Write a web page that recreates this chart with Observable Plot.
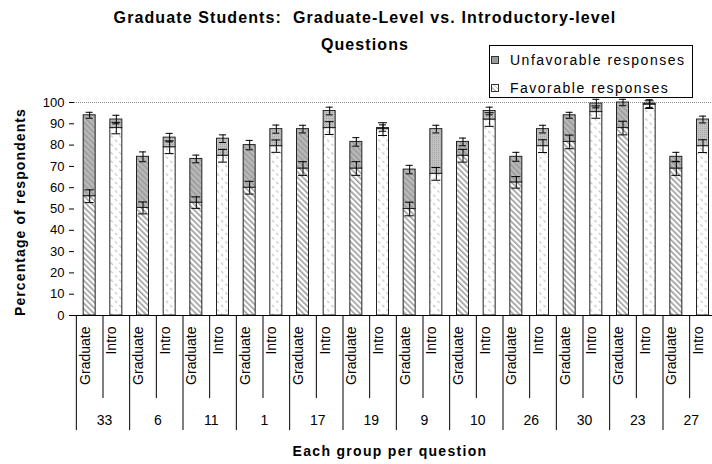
<!DOCTYPE html>
<html>
<head>
<meta charset="utf-8">
<script src="https://cdn.jsdelivr.net/npm/d3@7"></script>
<script src="https://cdn.jsdelivr.net/npm/@observablehq/plot@0.6"></script>
<style>
  body { margin: 0; background: #fff; font-family: "Liberation Sans", Arial, sans-serif; }
  #wrap { position: relative; width: 712px; height: 464px; overflow: hidden; background: #fff; }
  #chart { position: absolute; left: 0; top: 0; width: 712px; }
  .title { position: absolute; left: 0; width: 730px; text-align: center; font-weight: bold; font-size: 16px; letter-spacing: 1.1px; line-height: 18px; color: #000; }
  #legend { position: absolute; left: 489px; top: 45px; width: 202px; height: 51px; border: 1px solid #000; background: #fff; }
  .li { position: absolute; left: 20px; font-size: 14px; letter-spacing: 1.5px; line-height: 16px; white-space: nowrap; }
  .sw { position: absolute; left: 1px; width: 6px; height: 6px; border: 1px solid #333; }
  #ytitle { position: absolute; left: 20px; top: 212px; transform: translate(-50%, -50%) rotate(-90deg); font-weight: bold; font-size: 14px; letter-spacing: 1.1px; white-space: nowrap; }
  #xtitle { position: absolute; left: 390px; top: 451px; transform: translate(-50%, -50%); font-weight: bold; font-size: 14px; letter-spacing: 1.3px; white-space: nowrap; }
  g[aria-label="levels"] text { letter-spacing: 1.3px; }
  g[aria-label="groups"] text { letter-spacing: 3px; }
  svg { max-width: none !important; }
</style>
</head>
<body>
<div id="wrap">
  <div id="chart"></div>
  <div class="title" style="top:9px">Graduate Students:&nbsp; Graduate-Level vs. Introductory-level</div>
  <div class="title" style="top:36px">Questions</div>
  <div id="legend">
    <div class="sw" style="top:10px; background:#9a9a9a;"></div>
    <div class="li" style="top:6px;">Unfavorable responses</div>
    <div class="sw" style="top:38px; background: repeating-linear-gradient(45deg, #fff 0 2px, #bbb 2px 3px);"></div>
    <div class="li" style="top:34px;">Favorable responses</div>
  </div>
  <div id="ytitle">Percentage of respondents</div>
  <div id="xtitle">Each group per question</div>
</div>
<script>
// Question groups (category axis, outer level)
const groups = ["33", "6", "11", "1", "17", "19", "9", "10", "26", "30", "23", "27"];
// Respondent-question level (category axis, inner level)
const levels = ["Graduate", "Intro"];
// Favorable responses (%)
const favGrad  = [56, 50.5, 53, 60, 69, 69, 50, 75, 62.5, 81.5, 88, 69];
const favIntro = [88, 79, 75, 79.5, 88, 87.5, 66.5, 92, 79.5, 95.5, 99, 79.5];
// Unfavorable responses (%), stacked on top of favorable
const unfGrad  = [38, 24, 20.5, 20, 18.5, 12.5, 18.5, 6.5, 12, 12.5, 12, 5.5];
const unfIntro = [4, 4.5, 8, 8, 8, 0.5, 21, 4, 8, 4, 0.5, 12.5];
// Error half-widths (%)
const errFavGrad  = [3, 2.8, 2.7, 3, 3.2, 3.2, 3.2, 3, 2.7, 3.2, 3.2, 3.2];
const errFavIntro = [2.7, 3, 3, 2.9, 3, 3, 3, 3.2, 3, 2.9, 1.8, 3];
const errUnfGrad  = [1.4, 2.3, 1.8, 2.2, 1.8, 2, 2, 1.8, 2.1, 1.4, 1.5, 2.1];
const errUnfIntro = [2, 2, 1.8, 1.9, 1.8, 1.5, 1.8, 1.8, 1.8, 2, 1.8, 1.6];
// Y axis ticks
const yTicks = [0, 10, 20, 30, 40, 50, 60, 70, 80, 90, 100];

const rows = [];
groups.forEach((g, i) => {
  rows.push({key: g + "|Graduate", group: g, level: levels[0], fav: favGrad[i], unf: unfGrad[i], ef: errFavGrad[i], eu: errUnfGrad[i]});
  rows.push({key: g + "|Intro", group: g, level: levels[1], fav: favIntro[i], unf: unfIntro[i], ef: errFavIntro[i], eu: errUnfIntro[i]});
});
const grad = rows.filter(d => d.level === "Graduate");
const intro = rows.filter(d => d.level === "Intro");

const W = 712, H = 464;
const pad = 0.55;
const step = 640 / rows.length;            // one category slot
const rangeLen = step * (rows.length + pad);
const mLeft = 68.5;
const axisShift = 74 - mLeft;              // y axis sits a little left of the first category

const chart = Plot.plot({
  width: W, height: H,
  marginTop: 102, marginBottom: 149, marginLeft: mLeft, marginRight: W - (mLeft + rangeLen),
  style: {fontFamily: "Liberation Sans, Arial, sans-serif", fontSize: "13px", color: "#000", background: "transparent"},
  x: {type: "band", domain: rows.map(d => d.key), padding: pad, round: false, axis: null},
  y: {domain: [0, 100], axis: null},
  marks: [
    Plot.ruleY([100], {stroke: "#888", strokeDasharray: "1,1", insetLeft: axisShift}),
    Plot.barY(grad, {x: "key", y1: 0, y2: "fav", fill: "url(#gf)", stroke: "#222", strokeWidth: 1}),
    Plot.barY(intro, {x: "key", y1: 0, y2: "fav", fill: "url(#ifav)", stroke: "#222", strokeWidth: 1}),
    Plot.barY(grad, {x: "key", y1: "fav", y2: d => d.fav + d.unf, fill: "url(#gu)", stroke: "#222", strokeWidth: 1}),
    Plot.barY(intro, {x: "key", y1: "fav", y2: d => d.fav + d.unf, fill: "url(#iu)", stroke: "#222", strokeWidth: 1}),
    // error bars on favorable tops
    Plot.ruleX(rows, {x: "key", y1: d => d.fav - d.ef, y2: d => d.fav + d.ef, stroke: "#000"}),
    Plot.tickY(rows, {x: "key", y: d => d.fav - d.ef, stroke: "#000", insetLeft: 1.5, insetRight: 1.5}),
    Plot.tickY(rows, {x: "key", y: d => d.fav + d.ef, stroke: "#000", insetLeft: 1.5, insetRight: 1.5}),
    // error bars on total tops
    Plot.ruleX(rows, {x: "key", y1: d => d.fav + d.unf - d.eu, y2: d => d.fav + d.unf + d.eu, stroke: "#000"}),
    Plot.tickY(rows, {x: "key", y: d => d.fav + d.unf - d.eu, stroke: "#000", insetLeft: 2.5, insetRight: 2.5}),
    Plot.tickY(rows, {x: "key", y: d => d.fav + d.unf + d.eu, stroke: "#000", insetLeft: 2.5, insetRight: 2.5}),
    // axes
    Plot.axisY({ticks: yTicks, tickSize: 5, tickPadding: 5, fontSize: 13, label: null, line: true, stroke: "#000", dx: axisShift}),
    Plot.ruleY([0], {stroke: "#000", insetLeft: axisShift}),
    // category separators
    Plot.ruleX(grad, {x: "key", dx: -step / 2, insetTop: 213, insetBottom: -115, stroke: "#000"}),
    Plot.ruleX(intro, {x: "key", dx: -step / 2, insetTop: 213, insetBottom: -83, stroke: "#000"}),
    // category labels
    Plot.text(rows, {x: "key", text: "level", frameAnchor: "bottom", dy: 11, rotate: -90, textAnchor: "end", fontSize: 14, ariaLabel: "levels"}),
    Plot.text(grad, {x: "key", text: "group", frameAnchor: "bottom", dx: step / 2 + 1.5, dy: 109, fontSize: 14, ariaLabel: "groups"})
  ]
});

d3.select(chart).insert("defs", ":first-child").html(`
  <pattern id="gf" patternUnits="userSpaceOnUse" width="4" height="4" patternTransform="rotate(-45)">
    <rect width="4" height="4" fill="#fff"/><rect width="1.6" height="4" fill="#9c9c9c"/>
  </pattern>
  <pattern id="ifav" patternUnits="userSpaceOnUse" width="6" height="6" patternTransform="rotate(-45)">
    <rect width="6" height="6" fill="#fff"/><rect width="1.2" height="3" fill="#c6c6c6"/>
  </pattern>
  <pattern id="gu" patternUnits="userSpaceOnUse" width="4" height="4" patternTransform="rotate(-45)">
    <rect width="4" height="4" fill="#b9b9b9"/><rect width="1.5" height="4" fill="#9a9a9a"/>
  </pattern>
  <pattern id="iu" patternUnits="userSpaceOnUse" width="2" height="2">
    <rect width="2" height="2" fill="#c2c2c2"/><rect width="1" height="1" fill="#a6a6a6"/>
  </pattern>
`);
document.getElementById("chart").appendChild(chart);
</script>
</body>
</html>
